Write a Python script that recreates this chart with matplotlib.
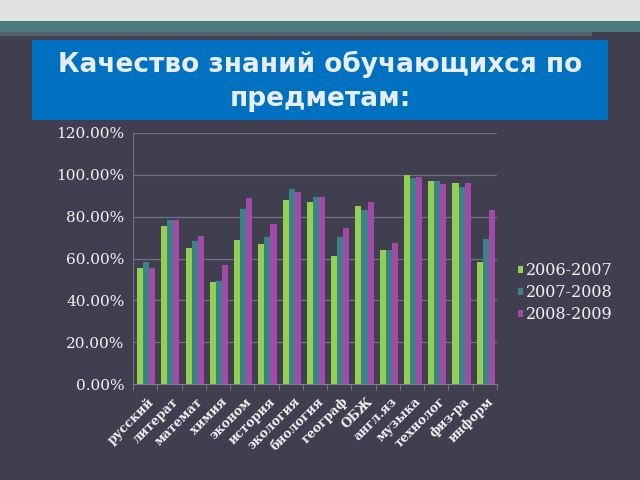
import matplotlib
matplotlib.use("Agg")
import matplotlib.pyplot as plt
from matplotlib.patches import Rectangle
import matplotlib.ticker as ticker
import numpy as np

plt.rcParams.update({
    "font.family": ["DejaVu Serif"],
    "axes.unicode_minus": False,
})

subjects = ["русский", "литерат", "математ", "химия", "эконом", "история",
            "экология", "биология", "географ", "ОБЖ", "англ.яз", "музыка",
            "технолог", "физ-ра", "информ"]
years = ["2006-2007", "2007-2008", "2008-2009"]
y2006 = [55.5, 75.5, 65.0, 48.6, 68.8, 67.0, 88.2, 86.9, 61.3, 85.0, 64.0, 100.0, 97.1, 96.3, 58.4]
y2007 = [58.3, 78.5, 68.5, 49.2, 83.8, 70.5, 93.3, 89.3, 70.4, 83.3, 64.0, 98.6, 97.1, 94.4, 69.4]
y2008 = [55.6, 78.5, 70.9, 57.0, 88.9, 76.6, 91.7, 89.3, 74.8, 86.8, 67.5, 99.2, 95.4, 96.3, 83.3]
yticks = [0, 20, 40, 60, 80, 100, 120]

colors = ["#92d050", "#3f8189", "#a24aa8"]
bg = "#403f50"
text_col = "#f2f2f2"

fig = plt.figure(figsize=(6.4, 4.8), dpi=100)
fig.patch.set_facecolor(bg)

# slide decoration
fig.add_artist(Rectangle((0, 1 - 21 / 480), 1, 21 / 480, transform=fig.transFigure,
                         facecolor="#e2e2e2", edgecolor="none"))
fig.add_artist(Rectangle((0, 1 - 32 / 480), 1, 11 / 480, transform=fig.transFigure,
                         facecolor="#4b7b7a", edgecolor="none"))
fig.add_artist(Rectangle((0, 1 - 36 / 480), 592 / 640, 4 / 480, transform=fig.transFigure,
                         facecolor="#56606c", edgecolor="none"))
fig.add_artist(Rectangle((32 / 640, 1 - 120 / 480), 576 / 640, 80 / 480, transform=fig.transFigure,
                         facecolor="#0070c0", edgecolor="none"))
fig.text(320 / 640, 1 - 81 / 480, "Качество знаний обучающихся по\nпредметам:",
         ha="center", va="center", color="#e8eef6", fontsize=19, fontweight="bold",
         family="DejaVu Sans", linespacing=1.4)

ax = fig.add_axes([133 / 640, 1 - 384 / 480, 364 / 640, 251 / 480])
ax.set_facecolor(bg)

x = np.arange(len(subjects))
w = 0.25
for i, (vals, c) in enumerate(zip([y2006, y2007, y2008], colors)):
    ax.bar(x + (i - 1) * w + 0.04, vals, width=w, color=c, label=years[i], zorder=3)

ax.set_xlim(-0.5, len(subjects) - 0.5)
ax.set_ylim(0, 120)
ax.set_yticks(yticks)
ax.yaxis.set_major_formatter(ticker.FuncFormatter(lambda v, p: f"{v:.2f}%"))
ax.grid(axis="y", color="#70707e", linewidth=0.9, zorder=0)

ax.set_xticks(x + 0.1)
ax.set_xticklabels(subjects, rotation=45, ha="right", rotation_mode="anchor",
                   fontsize=9, fontweight="bold", color=text_col)
ax.set_xticks(np.arange(-0.5, len(subjects)), minor=True)
ax.tick_params(axis="x", which="major", length=0, pad=8)
ax.tick_params(axis="x", which="minor", length=4, color="#80808c")
ax.tick_params(axis="y", length=0, labelsize=11, labelcolor=text_col, pad=6)

for s in ["top", "right"]:
    ax.spines[s].set_visible(False)
ax.spines["left"].set_color("#70707e")
ax.spines["bottom"].set_color("#80808c")

leg = fig.legend(loc="upper left", bbox_to_anchor=(504 / 640, 1 - 248 / 480),
                 frameon=False, fontsize=11.5, labelcolor=text_col,
                 handlelength=0.3, handleheight=0.3, handletextpad=0.2,
                 labelspacing=0.3)

fig.savefig("out.png", dpi=100, facecolor=bg)
